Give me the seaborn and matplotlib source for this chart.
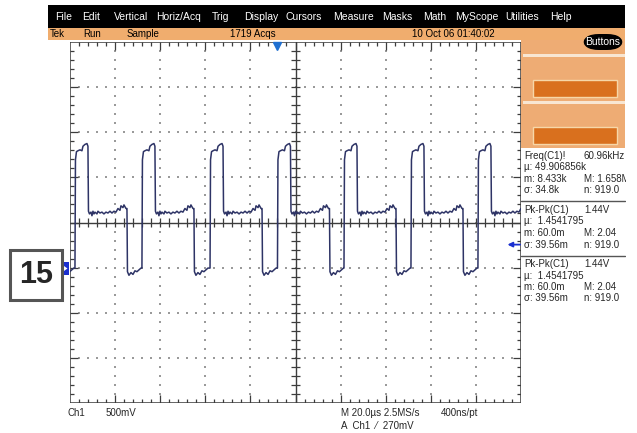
import numpy as np
import pandas as pd
import matplotlib
matplotlib.use('Agg')
import matplotlib.pyplot as plt
from matplotlib.patches import Rectangle, FancyBboxPatch, Polygon
import seaborn as sns

# ---- data ----
# one cycle of Ch1, time after the rising edge (us) and level (V)
cycle_t = [0, 0.22, 0.67, 1.33, 2.22, 3.10, 3.55, 4.43, 5.32, 5.76, 5.99, 6.43,
           7.10, 7.54, 7.98, 8.43, 8.87, 9.76, 10.2, 11.09, 11.97, 12.86, 13.75,
           14.63, 15.52, 16.41, 17.29, 18.18, 19.07, 19.96, 20.4, 21.29, 21.73,
           22.62, 23.06, 23.28, 23.95, 24.83, 25.72, 26.61, 27.49, 28.38, 29.27]
cycle_v = [0.01, 1.21, 1.30, 1.31, 1.32, 1.31, 1.36, 1.38, 1.39, 1.36, 0.64, 0.61,
           0.63, 0.59, 0.64, 0.61, 0.63, 0.61, 0.64, 0.62, 0.63, 0.61, 0.63,
           0.62, 0.64, 0.62, 0.64, 0.63, 0.67, 0.65, 0.70, 0.68, 0.71,
           0.67, 0.67, -0.03, -0.07, -0.04, -0.06, -0.02, -0.03, -0.01, 0.01]
# rising edges across the screen (us, 0 = screen centre)
edges = [-127.6, -97.8, -68.1, -37.9, -8.0, 21.5, 51.2, 80.9]

menu_items = ['File', 'Edit', 'Vertical', 'Horiz/Acq', 'Trig', 'Display', 'Cursors',
              'Measure', 'Masks', 'Math', 'MyScope', 'Utilities', 'Help']
menu_x = [55, 82, 114, 156, 212, 244, 286, 333, 382, 423, 455, 505, 550]

status = ['Tek', 'Run', 'Sample', '1719 Acqs', '10 Oct 06 01:40:02']
status_x = [50, 83, 127, 230, 412]

meas_left = ['Freq(C1)!', 'µ: 49.906856k', 'm: 8.433k', 'σ: 34.8k',
             'Pk-Pk(C1)', 'µ:  1.4541795', 'm: 60.0m', 'σ: 39.56m',
             'Pk-Pk(C1)', 'µ:  1.4541795', 'm: 60.0m', 'σ: 39.56m']
meas_right = ['60.96kHz', '', 'M: 1.658M', 'n: 919.0',
              '1.44V', '', 'M: 2.04', 'n: 919.0',
              '1.44V', '', 'M: 2.04', 'n: 919.0']
meas_y = [156, 167, 179, 190, 210, 221, 233, 245, 264, 276, 287, 298]

trig_level = 0.27   # V
trig_time = -8.2    # us
volts_per_div = 0.5
ground_div = -1.03  # ground marker position in divisions

# ---- figure ----
sns.set_style("white")
plt.rcParams['font.family'] = ['Liberation Sans', 'DejaVu Sans']

W, H = 637, 433
fig = plt.figure(figsize=(W / 100, H / 100), dpi=100)


def rect(x, y, w, h, **kw):
    fig.add_artist(Rectangle((x / W, 1 - (y + h) / H), w / W, h / H,
                             transform=fig.transFigure, **kw))


def txt(x, y, s, **kw):
    kw.setdefault('va', 'center')
    kw.setdefault('fontsize', 7)
    return fig.text(x / W, 1 - y / H, s, **kw)


# menu + status bars
rect(48, 5, 577, 23, facecolor='black', lw=0)
for s, x in zip(menu_items, menu_x):
    txt(x, 17, s, color='white', fontsize=7.5)
rect(48, 28, 577, 12, facecolor='#f0ad6e', lw=0)
for s, x in zip(status, status_x):
    txt(x, 34, s, color='black', fontsize=7)

# right button panel
rect(521, 40, 104, 108, facecolor='#eeac74', lw=0)
rect(523, 54, 102, 3, facecolor='#f8e6d2', lw=0)
rect(523, 101, 102, 3, facecolor='#f8e6d2', lw=0)
for y in (80, 127):
    rect(533, y, 84, 17, facecolor='#d9701e', edgecolor='#f7d7a8', lw=1)
fig.add_artist(FancyBboxPatch((583 / W, 1 - 50 / H), 40 / W, 16 / H,
                              boxstyle='round,pad=0,rounding_size=0.025',
                              transform=fig.transFigure, facecolor='black', lw=0))
txt(603, 42, 'Buttons', color='white', ha='center', fontsize=7.5)

# measurement readouts
for a, b, y in zip(meas_left, meas_right, meas_y):
    txt(524, y, a, fontsize=7)
    txt(584, y, b, fontsize=7)
for y in (201, 256):
    fig.add_artist(plt.Line2D([521 / W, 625 / W], [1 - y / H] * 2,
                              transform=fig.transFigure, color='#555555', lw=1))
rect(626, 0, 11, H, facecolor='white', lw=0, zorder=10)

# graticule
pos = [70 / W, 1 - 403 / H, 451 / W, 361 / H]
gax = fig.add_axes(pos)
gax.set_xlim(-5, 5)
gax.set_ylim(-4, 4)
gax.axis('off')
gc = '#3c3c3c'
gax.add_patch(Rectangle((-5, -4), 10, 8, fill=False, edgecolor=gc, lw=1.1))
gax.axhline(0, color=gc, lw=1)
gax.axvline(0, color=gc, lw=1)
mx = np.round(np.arange(-4.8, 4.81, 0.2), 2)
my = np.round(np.arange(-3.8, 3.81, 0.2), 2)
Lx = np.where(np.isclose(mx, np.round(mx)), 0.18, 0.09)
Ly = np.where(np.isclose(my, np.round(my)), 0.18, 0.09)
gax.vlines(mx, -4, -4 + Lx, color=gc, lw=0.9)
gax.vlines(mx, 4 - Lx, 4, color=gc, lw=0.9)
gax.hlines(my, -5, -5 + Ly, color=gc, lw=0.9)
gax.hlines(my, 5 - Ly, 5, color=gc, lw=0.9)
gax.vlines(mx, -0.09, 0.09, color=gc, lw=0.9)
gax.hlines(my, -0.09, 0.09, color=gc, lw=0.9)
for gx in range(-4, 5):
    if gx:
        gax.scatter(np.full(len(my), gx), my, s=1.2, marker='s', color='#9a9a9a', lw=0)
for gy in range(-3, 4):
    if gy:
        gax.scatter(mx, np.full(len(mx), gy), s=1.2, marker='s', color='#9a9a9a', lw=0)

# trace
t = np.concatenate([np.add(e, cycle_t) for e in edges])
v = np.concatenate([cycle_v for e in edges])
df = pd.DataFrame({'t': t, 'v': v})
ax = fig.add_axes(pos)
ax.patch.set_alpha(0)
vc = -ground_div * volts_per_div
sns.lineplot(data=df, x='t', y='v', ax=ax, sort=False, estimator=None,
             color='#2e3466', lw=1.1)
ax.set_xlim(-100, 100)
ax.set_ylim(vc - 4 * volts_per_div, vc + 4 * volts_per_div)
ax.axis('off')

# markers
blue = '#1a2fd0'
ax.plot([trig_time], [vc + 4 * volts_per_div - 0.04], marker='v', color='#1f6fd0',
        ms=6, clip_on=False, zorder=5)
ax.annotate('', xy=(94.0, trig_level), xytext=(99.6, trig_level),
            arrowprops=dict(arrowstyle='-|>', color=blue, lw=1.3, mutation_scale=7,
                            shrinkA=0, shrinkB=0),
            annotation_clip=False)
rect(62, 262, 7, 13, facecolor=blue, lw=0)
fig.add_artist(Polygon([[64 / W, 1 - 266 / H], [64 / W, 1 - 271 / H], [67.5 / W, 1 - 268.5 / H]],
                       transform=fig.transFigure, facecolor='white', lw=0))

# label box
rect(10, 250, 52, 50, facecolor='white', edgecolor='#555555', lw=2.2)
txt(36, 275, '15', ha='center', fontsize=22, fontweight='bold',
    family=['Liberation Sans', 'DejaVu Sans'])

# bottom readouts
txt(68, 413, 'Ch1')
txt(106, 413, '500mV')
txt(341, 413, 'M 20.0µs 2.5MS/s')
txt(441, 413, '400ns/pt')
txt(341, 426, 'A  Ch1  ⁄  270mV')

fig.savefig('out.png', dpi=100)
